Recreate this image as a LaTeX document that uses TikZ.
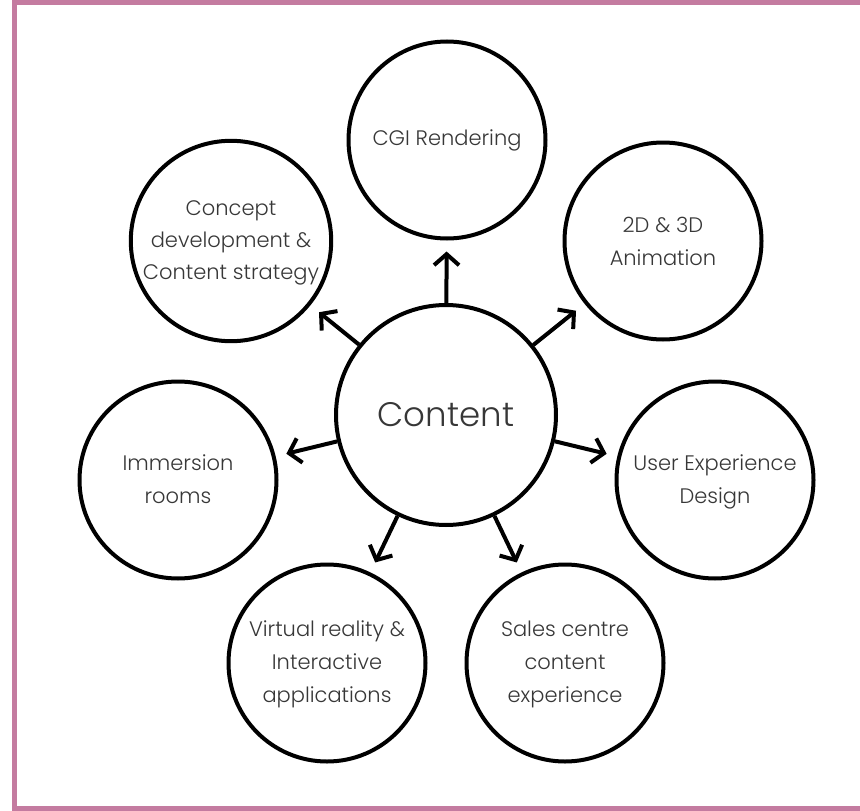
\documentclass[tikz,border=0pt]{standalone}
\usepackage{fontspec}
\setmainfont{Poppins Light}
\usetikzlibrary{arrows.meta}
\definecolor{framepink}{RGB}{196,123,160}
\definecolor{inkgray}{RGB}{55,55,55}
\begin{document}
\begin{tikzpicture}[x=1pt,y=-1pt,
  bubble/.style={circle,draw=black,line width=4pt,minimum size=197pt,inner sep=0pt,
    align=center,text=inkgray,font=\fontsize{21}{33}\selectfont},
  hub/.style={circle,draw=black,line width=4pt,minimum size=220pt,inner sep=0pt,
    text=inkgray,font=\fontsize{34}{40}\selectfont},
  spoke/.style={line width=4pt,-{Straight Barb[length=11pt,width=25pt]},shorten >=11pt}]
\useasboundingbox (0,0) rectangle (860,811);
\begin{scope}
  \clip (0,0) rectangle (860,811);
  \draw[framepink,line width=5.5pt] (14.7,2.7) rectangle (880,808.3);
\end{scope}

\node[hub] (content) at (446,415) {Content};

\node[bubble] (cgi) at (447,140) {CGI Rendering};
\node[bubble] (concept) at (231,241) {\raisebox{5pt}{\begin{tabular}{@{}c@{}}Concept\\[-1pt]development \&\\[-1pt]Content strategy\end{tabular}}};
\node[bubble] (anim) at (663,241) {2D \& 3D\\Animation};
\node[bubble] (immersion) at (178,480) {\raisebox{-3pt}{\begin{tabular}{@{}c@{}}Immersion\\rooms\end{tabular}}};
\node[bubble] (ux) at (715,480) {\raisebox{-4pt}{\begin{tabular}{@{}c@{}}User Experience\\Design\end{tabular}}};
\node[bubble] (vr) at (327,663) {\raisebox{-3pt}{\begin{tabular}{@{}c@{}}Virtual reality \&\\Interactive\\applications\end{tabular}}};
\node[bubble] (sales) at (565,663) {\raisebox{-3pt}{\begin{tabular}{@{}c@{}}Sales centre\\content\\experience\end{tabular}}};

\foreach \t in {cgi,concept,anim,immersion,ux,vr,sales}
  \draw[spoke] (content) -- (\t);
\end{tikzpicture}
\end{document}
